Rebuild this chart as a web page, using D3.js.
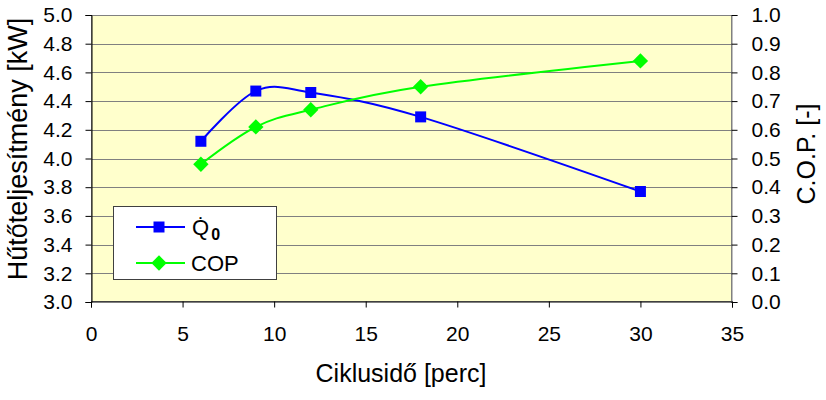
<!DOCTYPE html>
<html>
<head>
<meta charset="utf-8">
<script src="https://cdn.jsdelivr.net/npm/d3@7"></script>
<style>
  body { margin: 0; background: #fff; }
  svg text { font-family: "Liberation Sans", Arial, sans-serif; fill: #000; }
</style>
</head>
<body>
<svg id="chart" width="826" height="400"></svg>
<script>
// ---- data ----
const cycleTimes = [6, 9, 12, 18, 30];          // Ciklusidő [perc]
const coolingPower = [4.12, 4.47, 4.46, 4.29, 3.77]; // Q0 [kW]
const copValues = [0.48, 0.61, 0.67, 0.75, 0.84];    // COP [-]
const xTicks = [0, 5, 10, 15, 20, 25, 30, 35];
const yLeftTicks = [3.0, 3.2, 3.4, 3.6, 3.8, 4.0, 4.2, 4.4, 4.6, 4.8, 5.0];
const yRightTicks = [0.0, 0.1, 0.2, 0.3, 0.4, 0.5, 0.6, 0.7, 0.8, 0.9, 1.0];
const xTitle = "Ciklusidő [perc]";
const yLeftTitle = "Hűtőteljesítmény [kW]";
const yRightTitle = "C.O.P. [-]";
const legendLabels = ["Q", "COP"];

// ---- layout ----
const svg = d3.select("#chart");
const L = 91, R = 732, T = 15, B = 302;

const x = d3.scaleLinear().domain([0, 35]).range([L, R]);
const yL = d3.scaleLinear().domain([3.0, 5.0]).range([B, T]);
const yR = d3.scaleLinear().domain([0.0, 1.0]).range([B, T]);

// plot background
svg.append("rect").attr("x", L).attr("y", T).attr("width", R - L).attr("height", B - T)
  .attr("fill", "#FFFFCC");

// gridlines
svg.append("g").selectAll("line").data(yLeftTicks.filter(d => d > 3.0 && d < 5.0)).join("line")
  .attr("x1", L).attr("x2", R)
  .attr("y1", d => Math.round(yL(d)) + 0.5).attr("y2", d => Math.round(yL(d)) + 0.5)
  .attr("stroke", "#808080").attr("stroke-width", 1);

// plot border
svg.append("rect").attr("x", L + 0.5).attr("y", T + 0.5).attr("width", R - L - 1).attr("height", B - T - 1)
  .attr("fill", "none").attr("stroke", "#808080").attr("stroke-width", 1);

const fmt1 = d3.format(".1f");

// left axis
const gL = svg.append("g").attr("transform", `translate(${L + 0.5},0)`)
  .call(d3.axisLeft(yL).tickValues(yLeftTicks).tickFormat(fmt1).tickSize(6).tickPadding(13));
// right axis
const gR = svg.append("g").attr("transform", `translate(${R - 0.5},0)`)
  .call(d3.axisRight(yR).tickValues(yRightTicks).tickFormat(fmt1).tickSize(6).tickPadding(14));
// bottom axis
const gB = svg.append("g").attr("transform", `translate(0,${B - 0.5})`)
  .call(d3.axisBottom(x).tickValues(xTicks).tickFormat(d3.format("d")).tickSize(6).tickPadding(19));

[gL, gR, gB].forEach(g => {
  g.selectAll("text").attr("font-size", 21).attr("font-family", "Liberation Sans, Arial, sans-serif");
  g.selectAll("line").attr("stroke", "#000");
  g.select(".domain").attr("stroke", "#000");
});
gR.select(".domain").attr("stroke", "#808080");

// axis titles
svg.append("text").attr("x", 401).attr("y", 382).attr("text-anchor", "middle")
  .attr("font-size", 25).text(xTitle);
svg.append("text").attr("transform", "translate(27,149) rotate(-90)").attr("text-anchor", "middle")
  .attr("font-size", 27).text(yLeftTitle);
svg.append("text").attr("transform", "translate(815,154) rotate(-90)").attr("text-anchor", "middle")
  .attr("font-size", 25).text(yRightTitle);

// lines
const curve = d3.curveCardinal.tension(0);
const qData = cycleTimes.map((t, i) => [t, coolingPower[i]]);
const cData = cycleTimes.map((t, i) => [t, copValues[i]]);

svg.append("path").datum(qData)
  .attr("d", d3.line().x(d => x(d[0])).y(d => yL(d[1])).curve(curve))
  .attr("fill", "none").attr("stroke", "#0000FF").attr("stroke-width", 2);
svg.append("path").datum(cData)
  .attr("d", d3.line().x(d => x(d[0])).y(d => yR(d[1])).curve(curve))
  .attr("fill", "none").attr("stroke", "#00FF00").attr("stroke-width", 2);

const sq = d3.symbol().type(d3.symbolSquare).size(121);
const dm = d3.symbol().type(d3.symbolDiamond2).size(150);

svg.append("g").selectAll("path").data(qData).join("path")
  .attr("transform", d => `translate(${x(d[0])},${yL(d[1])})`)
  .attr("d", sq).attr("fill", "#0000FF");
svg.append("g").selectAll("path").data(cData).join("path")
  .attr("transform", d => `translate(${x(d[0])},${yR(d[1])})`)
  .attr("d", dm).attr("fill", "#00FF00");

// legend
const lg = svg.append("g");
lg.append("rect").attr("x", 113.5).attr("y", 206.5).attr("width", 163).attr("height", 73)
  .attr("fill", "#fff").attr("stroke", "#404040").attr("stroke-width", 1);
const lx1 = 136, lx2 = 185, lmid = 159;
lg.append("line").attr("x1", lx1).attr("x2", lx2).attr("y1", 227).attr("y2", 227)
  .attr("stroke", "#0000FF").attr("stroke-width", 2);
lg.append("path").attr("transform", `translate(${lmid},227)`).attr("d", sq).attr("fill", "#0000FF");
lg.append("line").attr("x1", lx1).attr("x2", lx2).attr("y1", 263).attr("y2", 263)
  .attr("stroke", "#00FF00").attr("stroke-width", 2);
lg.append("path").attr("transform", `translate(${lmid},263)`).attr("d", dm).attr("fill", "#00FF00");

const qt = lg.append("text").attr("x", 192).attr("y", 235).attr("font-size", 22);
qt.append("tspan").text(legendLabels[0] + "\u0307");
qt.append("tspan").attr("dy", 5).attr("dx", 2).attr("font-size", 16).attr("font-weight", "bold").text("0");
lg.append("text").attr("x", 191).attr("y", 271).attr("font-size", 22).text(legendLabels[1]);
</script>
</body>
</html>
